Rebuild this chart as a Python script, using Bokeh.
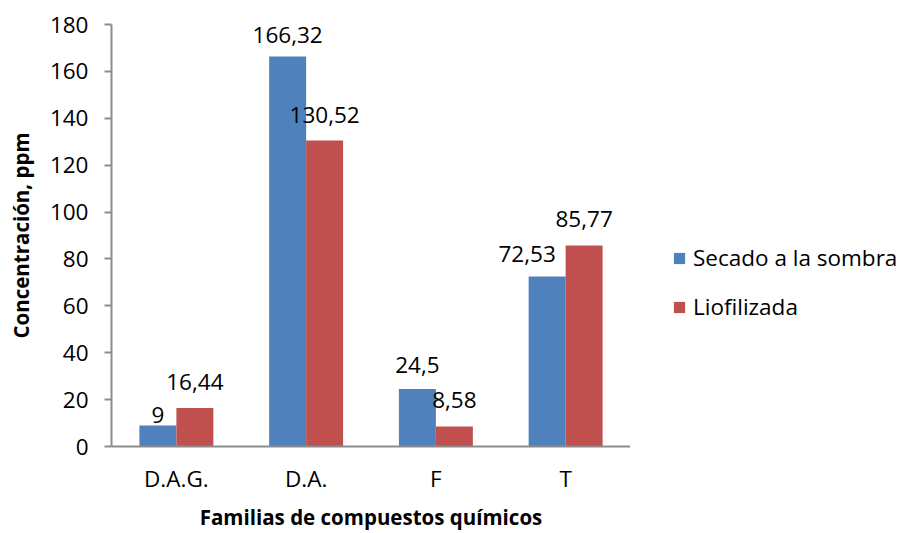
from bokeh.plotting import figure
from bokeh.models import ColumnDataSource, FactorRange, Legend, LegendItem, Range1d, FixedTicker
from bokeh.layouts import row
from bokeh.transform import dodge
from bokeh.core.properties import value
from bokeh.embed import file_html
from bokeh.resources import INLINE

categories = ["D.A.G.", "D.A.", "F", "T"]
secado = [9, 166.32, 24.5, 72.53]
liofilizada = [16.44, 130.52, 8.58, 85.77]
secado_labels = ["9", "166,32", "24,5", "72,53"]
liof_labels = ["16,44", "130,52", "8,58", "85,77"]
series_names = ["Secado a la sombra", "Liofilizada"]
y_ticks = [0, 20, 40, 60, 80, 100, 120, 140, 160, 180]

# label nudges in screen pixels (styling only)
secado_dx = [0, 0, 0, -20]
secado_dy = [-10, -22, -24, -22]
liof_dx = [0, 0, 0, 0]
liof_dy = [-26, -26, -26, -26]

FONT = "Open Sans"
BLUE = "#4F81BD"
RED = "#C0504D"
AXIS = "#8C8C8C"
FS = "22.5px"

src = ColumnDataSource(dict(cat=categories, s=secado, l=liofilizada,
                            sl=secado_labels, ll=liof_labels,
                            sdx=secado_dx, sdy=secado_dy, ldx=liof_dx, ldy=liof_dy))

p = figure(width=630, height=533, x_range=FactorRange(*categories, range_padding=0, factor_padding=0),
           y_range=Range1d(0, 180), output_backend="svg", toolbar_location=None,
           min_border_left=111, min_border_right=0, min_border_top=24, min_border_bottom=86)
p.outline_line_color = None
p.xgrid.grid_line_color = None
p.ygrid.grid_line_color = None

bw = 0.285
p.vbar(x=dodge("cat", -bw / 2, range=p.x_range), top="s", width=bw, source=src,
       fill_color=BLUE, line_color=None)
p.vbar(x=dodge("cat", bw / 2, range=p.x_range), top="l", width=bw, source=src,
       fill_color=RED, line_color=None)

p.text(x=dodge("cat", -bw / 2, range=p.x_range), y="s", text="sl", source=src,
       x_offset="sdx", y_offset="sdy",
       text_align="center", text_baseline="alphabetic", text_font=value(FONT),
       text_font_size=FS, text_color="black")
p.text(x=dodge("cat", bw / 2, range=p.x_range), y="l", text="ll", source=src,
       x_offset="ldx", y_offset="ldy",
       text_align="center", text_baseline="alphabetic", text_font=value(FONT),
       text_font_size=FS, text_color="black")

p.yaxis.ticker = FixedTicker(ticks=y_ticks)
for ax in (p.xaxis[0], p.yaxis[0]):
    ax.axis_line_color = AXIS
    ax.axis_line_width = 2
    ax.major_label_text_font = FONT
    ax.major_label_text_font_size = FS
    ax.major_label_text_color = "black"
    ax.axis_label_text_font = FONT
    ax.axis_label_text_font_size = "20.5px"
    ax.axis_label_text_font_style = "bold"
    ax.axis_label_text_color = "black"
    ax.minor_tick_line_color = None

p.yaxis.major_tick_line_color = AXIS
p.yaxis.major_tick_line_width = 2
p.yaxis.major_tick_in = 0
p.yaxis.major_tick_out = 7
p.yaxis.major_label_standoff = 16
p.yaxis.axis_label = "Concentración, ppm"
p.yaxis.axis_label_standoff = 12

p.xaxis.major_tick_line_color = None
p.xaxis.major_tick_out = 0
p.xaxis.major_label_standoff = 16
p.xaxis.axis_label = "Familias de compuestos químicos"
p.xaxis.axis_label_standoff = 6
p.xaxis.major_label_orientation = "horizontal"

# legend panel (helper renderers carry only the legend colours, zero-size)
p2 = figure(width=277, height=533, x_range=Range1d(0, 1), y_range=Range1d(0, 1),
            output_backend="svg", toolbar_location=None,
            x_axis_location=None, y_axis_location=None,
            min_border_left=0, min_border_right=0, min_border_top=0, min_border_bottom=0)
p2.outline_line_color = None
p2.xgrid.grid_line_color = None
p2.ygrid.grid_line_color = None
helper = ColumnDataSource(dict(x=[0], top=[0]))
g1 = p2.vbar(x="x", top="top", width=0, source=helper, fill_color=BLUE, line_color=None)
g2 = p2.vbar(x="x", top="top", width=0, source=helper, fill_color=RED, line_color=None)

legend = Legend(items=[LegendItem(label=series_names[0], renderers=[g1]),
                       LegendItem(label=series_names[1], renderers=[g2])],
                location=(42, 124), glyph_width=14, glyph_height=14, label_standoff=7,
                spacing=18, padding=0, margin=0, border_line_color=None,
                background_fill_alpha=0, label_text_font=FONT, label_text_font_size=FS,
                label_text_color="black", label_height=20)
p2.add_layout(legend, "center")

open("out.html", "w").write(file_html(row(p, p2), INLINE))
